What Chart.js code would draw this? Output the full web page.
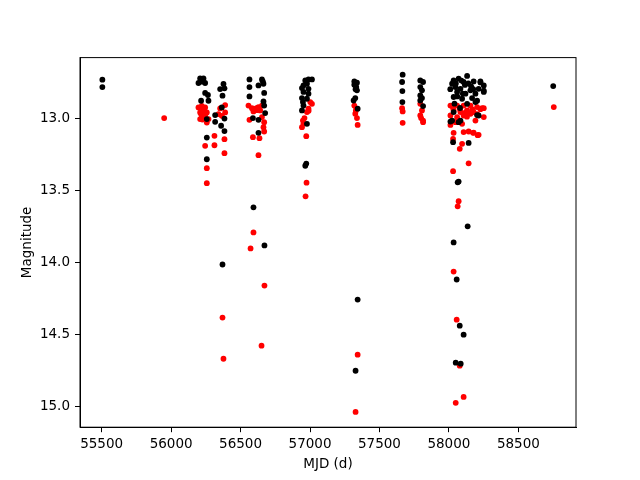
<!DOCTYPE html>
<html>
<head>
<meta charset="utf-8">
<script src="https://cdn.jsdelivr.net/npm/chart.js@4/dist/chart.umd.min.js"></script>
<style>
  html, body { margin: 0; padding: 0; background: #fff; }
  #wrap { width: 640px; height: 480px; }
</style>
</head>
<body>
<div id="wrap"><canvas id="c" width="640" height="480"></canvas></div>
<script>
// tick labels
const xTicks = [55500, 56000, 56500, 57000, 57500, 58000, 58500];
const yTicks = [13.0, 13.5, 14.0, 14.5, 15.0];

// black points (MJD, magnitude)
const blackMjd = [
  55505, 55505,
  56209, 56233, 56197, 56221, 56245, 56377, 56353, 56384, 56245, 56265, 56370, 56216, 56269, 56365,
  56257, 56317, 56384, 56317, 56360, 56384, 56257, 56257, 56370,
  56564, 56564, 56654, 56665, 56629, 56670, 56564, 56665, 56670, 56677, 56589, 56629, 56629, 56660,
  56593, 56672,
  56966, 56989, 57014, 56953, 56978, 56942, 56989, 56953, 56989, 56942, 56978, 56949, 56953, 56942,
  56978, 56973, 56966,
  57319, 57338, 57319, 57333, 57338, 57326, 57314, 57343, 57328, 57343, 57328,
  57667, 57663, 57665, 57665,
  57794, 57814, 57794, 57806, 57794, 57806, 57794, 57814,
  58034, 58070, 58131, 58106, 58178, 58227, 58251, 58214, 58155, 58251, 58047, 58083, 58023, 58059,
  58119, 58191, 58034, 58095, 58167, 58227, 58251, 58203, 58131, 58191, 58034, 58083, 58023, 58214,
  58030, 58142, 58070, 58063, 58203, 58011, 58070,
  58050, 58090, 58115, 58140, 58160, 58010, 58060, 58100, 58175, 58040, 58080,
  58135, 58034, 58056, 58078, 58106, 58049, 58085,
  58751
];
const blackMag = [
  12.734, 12.785,
  12.725, 12.725, 12.757, 12.748, 12.757, 12.764, 12.799, 12.794, 12.826, 12.840, 12.845, 12.880, 12.880, 12.926,
  13.007, 12.979, 13.003, 13.026, 13.053, 13.090, 13.135, 13.285, 14.014,
  12.732, 12.785, 12.732, 12.762, 12.774, 12.826, 12.850, 12.885, 12.913, 12.965, 13.000, 13.012, 13.102, 12.745,
  13.618, 13.882,
  12.739, 12.732, 12.732, 12.774, 12.762, 12.792, 12.797, 12.819, 12.831, 12.861, 12.866, 12.889, 12.913, 12.947,
  13.040, 13.315, 13.330,
  12.746, 12.755, 12.769, 12.785, 12.808, 12.861, 12.878, 12.935, 12.800, 14.257, 14.750,
  12.699, 12.750, 12.813, 12.889,
  12.739, 12.750, 12.785, 12.808, 12.843, 12.861, 12.878, 12.917,
  12.739, 12.727, 12.708, 12.750, 12.746, 12.746, 12.774, 12.797, 12.808, 12.819, 12.785, 12.797, 12.762, 12.819,
  12.831, 12.831, 12.854, 12.866, 12.861, 12.753, 12.810, 12.880, 12.901, 12.889, 12.958, 13.017, 13.017, 12.982,
  13.167, 13.172, 13.440, 13.445, 12.979, 13.024, 13.028,
  12.760, 12.740, 12.770, 12.760, 12.780, 12.800, 12.850, 12.830, 12.800, 12.900, 12.930,
  13.750, 13.861, 14.118, 14.438, 14.500, 14.694, 14.701,
  12.778
];

// red points (MJD, magnitude)
const redMjd = [
  55950,
  56197, 56221, 56245, 56209, 56233, 56257, 56221, 56245, 56269, 56209, 56257, 56353, 56389, 56341,
  56365, 56389, 56312, 56245, 56312, 56384, 56384, 56257, 56257, 56230, 56215, 56240, 56225, 56235,
  56370, 56377,
  56557, 56582, 56605, 56629, 56641, 56593, 56654, 56564, 56654, 56670, 56665, 56670, 56589, 56636,
  56629, 56615, 56620, 56593, 56572, 56672, 56651,
  57002, 57014, 56989, 56978, 56949, 56953, 56942, 56973, 56975, 56968, 56990, 56960,
  57319, 57333, 57326, 57338, 57343, 57330, 57343, 57328,
  57663, 57667, 57667,
  57794, 57806, 57794, 57814, 57800, 57814,
  58011, 58059, 58106, 58155, 58203, 58239, 58034, 58083, 58131, 58178, 58011, 58059, 58106, 58155,
  58047, 58095, 58011, 58251, 58251, 58191, 58227, 58203, 58178, 58207, 58034, 58030, 58106, 58142,
  58174, 58214, 58095, 58078, 58142, 58030,
  58030, 58080, 58120, 58170, 58060, 58130,
  58070, 58063, 58034, 58056, 58078, 58106, 58049,
  58755
];
const redMag = [
  13.000,
  12.926, 12.915, 12.926, 12.961, 12.949, 12.961, 12.996, 12.984, 13.007, 13.007, 13.031, 12.933, 12.910, 12.972,
  12.984, 12.961, 13.123, 13.192, 13.188, 13.146, 13.243, 13.347, 13.451, 12.940, 12.970, 12.960, 13.010, 12.980,
  14.382, 14.667,
  12.913, 12.931, 12.935, 12.924, 12.947, 12.954, 12.913, 13.012, 12.993, 13.028, 13.063, 13.093, 13.132, 13.139,
  13.257, 12.945, 12.930, 13.792, 13.903, 14.160, 14.576,
  12.889, 12.901, 12.935, 12.958, 13.017, 13.040, 13.063, 13.125, 13.447, 13.542, 12.950, 13.000,
  12.913, 12.935, 12.970, 13.000, 13.047, 12.950, 14.639, 15.035,
  12.931, 12.954, 13.033,
  12.901, 12.947, 12.982, 13.017, 13.000, 13.028,
  12.913, 12.913, 12.913, 12.913, 12.924, 12.931, 12.947, 12.958, 12.947, 12.958, 12.982, 12.993, 12.982, 12.970,
  13.028, 13.040, 13.047, 12.931, 12.993, 13.017, 12.938, 12.972, 13.100, 13.118, 13.102, 13.144, 13.097, 13.093,
  13.102, 13.116, 13.178, 13.213, 13.313, 13.368,
  12.930, 12.940, 12.960, 12.940, 13.010, 12.990,
  13.576, 13.611, 14.063, 14.396, 14.715, 14.931, 14.972,
  12.924
];

function toPoints(xs, ys) {
  return xs.map((x, i) => ({ x: x, y: ys[i] }));
}

const FONT = 'DejaVu Sans';

// draw the top and right sides of the axes box
const frame = {
  id: 'frame',
  afterDraw(chart) {
    const a = chart.chartArea;
    const ctx = chart.ctx;
    ctx.save();
    ctx.strokeStyle = '#000';
    ctx.lineWidth = 1;
    ctx.strokeRect(a.left, a.top, a.right - a.left, a.bottom - a.top);
    ctx.restore();
  }
};

new Chart(document.getElementById('c'), {
  type: 'scatter',
  data: {
    datasets: [
      {
        data: toPoints(blackMjd, blackMag),
        backgroundColor: '#000000',
        pointRadius: 2.9,
        pointBorderWidth: 0
      },
      {
        data: toPoints(redMjd, redMag),
        backgroundColor: '#ff0000',
        pointRadius: 2.9,
        pointBorderWidth: 0
      }
    ]
  },
  plugins: [frame],
  options: {
    responsive: false,
    animation: false,
    events: [],
    layout: {
      padding: { top: 57.6, right: 64, left: 0, bottom: 0 }
    },
    plugins: {
      legend: { display: false },
      tooltip: { enabled: false }
    },
    scales: {
      x: {
        type: 'linear',
        min: 55344,
        max: 58915,
        afterFit: (s) => { s.height = 52.8; },
        afterBuildTicks: (s) => { s.ticks = xTicks.map(v => ({ value: v })); },
        border: { color: '#000', width: 1 },
        grid: { drawOnChartArea: false, drawTicks: true, tickLength: 5, color: '#000' },
        ticks: {
          color: '#000',
          padding: 4,
          maxRotation: 0,
          font: { family: FONT, size: 13.5 },
          callback: (v) => String(v)
        },
        title: {
          display: true,
          text: 'MJD (d)',
          color: '#000',
          font: { family: FONT, size: 13.5 },
          padding: { top: 0, bottom: 7 }
        }
      },
      y: {
        type: 'linear',
        reverse: true,
        min: 12.581,
        max: 15.141,
        afterFit: (s) => { s.width = 80; },
        afterBuildTicks: (s) => { s.ticks = yTicks.map(v => ({ value: v })); },
        border: { color: '#000', width: 1 },
        grid: { drawOnChartArea: false, drawTicks: true, tickLength: 5, color: '#000' },
        ticks: {
          color: '#000',
          padding: 5,
          font: { family: FONT, size: 13.5 },
          callback: (v) => v.toFixed(1)
        },
        title: {
          display: true,
          text: 'Magnitude',
          color: '#000',
          font: { family: FONT, size: 13.5 },
          padding: { top: 19, bottom: 0 }
        }
      }
    }
  }
});
</script>
</body>
</html>
